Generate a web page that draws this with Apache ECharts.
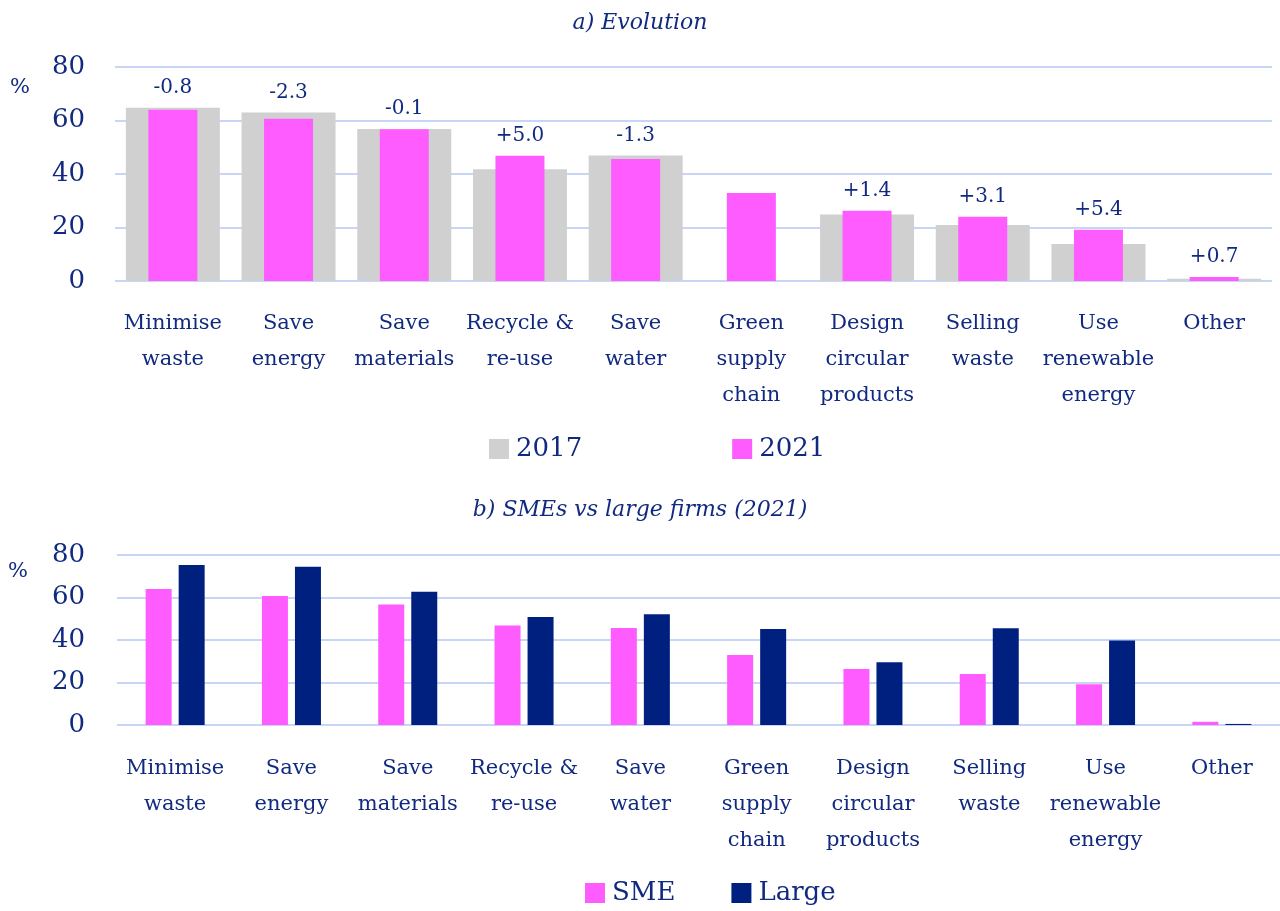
<!DOCTYPE html>
<html>
<head>
<meta charset="utf-8">
<script src="https://cdn.jsdelivr.net/npm/echarts@6/dist/echarts.min.js"></script>
<style>
  html, body { margin: 0; padding: 0; background: #ffffff; }
  #chart { width: 1280px; height: 911px; }
</style>
</head>
<body>
<div id="chart"></div>
<script>
// Circular-economy actions taken by firms, share of firms (%)
const categories = [
  'Minimise\nwaste', 'Save\nenergy', 'Save\nmaterials', 'Recycle &\nre-use', 'Save\nwater',
  'Green\nsupply\nchain', 'Design\ncircular\nproducts', 'Selling\nwaste', 'Use\nrenewable\nenergy', 'Other'
];
const yTicks = [0, 20, 40, 60, 80];

// Panel a) evolution between survey waves
const values2017 = [64.8, 63.0, 56.8, 41.8, 46.9, null, 24.9, 20.9, 13.8, 0.8];
const values2021 = [64.0, 60.7, 56.7, 46.8, 45.6, 32.9, 26.3, 24.0, 19.2, 1.5];

// Panel b) by firm size, 2021
const valuesSME = [64.0, 60.7, 56.7, 46.8, 45.6, 32.9, 26.3, 24.0, 19.2, 1.5];
const valuesLarge = [75.3, 74.5, 62.7, 50.8, 52.1, 45.2, 29.5, 45.5, 39.8, 0.5];

const NAVY = '#002080';
const TEXT = '#112a80';
const PINK = '#ff5cff';
const GREY = '#d0d0d0';
const GRID = '#c9d5f7';
const FONT = '"DejaVu Serif", "Liberation Serif", serif';

function change(i) {
  if (values2017[i] == null || values2021[i] == null) return null;
  return Math.round((values2021[i] - values2017[i]) * 10) / 10;
}
function fmtChange(i) {
  const c = change(i);
  if (c == null) return '';
  return (c >= 0 ? '+' : '') + c.toFixed(1);
}

const catAxis = (gridIndex, margin) => ({
  type: 'category',
  gridIndex,
  data: categories,
  axisLine: { show: false },
  axisTick: { show: false },
  axisLabel: {
    interval: 0, color: TEXT, fontFamily: FONT, fontSize: 21,
    lineHeight: 36, margin
  }
});
const valAxis = (gridIndex, margin) => ({
  type: 'value',
  gridIndex,
  min: yTicks[0], max: yTicks[yTicks.length - 1], interval: 20,
  axisLine: { show: false },
  axisTick: { show: false },
  axisLabel: { color: TEXT, fontFamily: FONT, fontSize: 26, margin },
  splitLine: { lineStyle: { color: GRID, width: 2 } }
});

const option = {
  backgroundColor: '#ffffff',
  animation: false,
  textStyle: { fontFamily: FONT },
  title: [
    { text: 'a) Evolution', left: 'center', top: 7,
      textStyle: { fontFamily: FONT, fontStyle: 'italic', fontWeight: 'normal', fontSize: 22, color: TEXT } },
    { text: 'b) SMEs vs large firms (2021)', left: 'center', top: 494,
      textStyle: { fontFamily: FONT, fontStyle: 'italic', fontWeight: 'normal', fontSize: 22, color: TEXT } }
  ],
  legend: [
    { data: ['2017', '2021'], left: 484, top: 431, itemWidth: 20, itemHeight: 20, itemGap: 150,
      icon: 'rect', textStyle: { color: TEXT, fontFamily: FONT, fontSize: 26, padding: [0, 0, 0, 2] } },
    { data: ['SME', 'Large'], left: 580, top: 875, itemWidth: 20, itemHeight: 20, itemGap: 56,
      icon: 'rect', textStyle: { color: TEXT, fontFamily: FONT, fontSize: 26, padding: [0, 0, 0, 2] } }
  ],
  graphic: [
    { type: 'text', left: 10, top: 77, style: { text: '%', fill: TEXT, font: '21px ' + FONT } },
    { type: 'text', left: 8, top: 561, style: { text: '%', fill: TEXT, font: '21px ' + FONT } }
  ],
  grid: [
    { left: 115, top: 67, width: 1157, height: 214 },
    { left: 117, top: 555, width: 1168, height: 170 }
  ],
  xAxis: [
    catAxis(0, 25),
    Object.assign(catAxis(0, 25), { show: false }),
    catAxis(1, 26)
  ],
  yAxis: [valAxis(0, 30), valAxis(1, 32)],
  series: [
    {
      name: '2017', type: 'bar', xAxisIndex: 0, yAxisIndex: 0,
      data: values2017, barWidth: 94, itemStyle: { color: GREY }, z: 2,
      label: {
        show: true, position: 'top', distance: 10, color: TEXT, fontFamily: FONT, fontSize: 20,
        formatter: p => (values2021[p.dataIndex] != null && values2017[p.dataIndex] >= values2021[p.dataIndex]) ? fmtChange(p.dataIndex) : ''
      }
    },
    {
      name: '2021', type: 'bar', xAxisIndex: 1, yAxisIndex: 0,
      data: values2021, barWidth: 49, itemStyle: { color: PINK }, z: 3,
      label: {
        show: true, position: 'top', distance: 10, color: TEXT, fontFamily: FONT, fontSize: 20,
        formatter: p => (values2017[p.dataIndex] != null && values2021[p.dataIndex] > values2017[p.dataIndex]) ? fmtChange(p.dataIndex) : ''
      }
    },
    {
      name: 'SME', type: 'bar', xAxisIndex: 2, yAxisIndex: 1,
      data: valuesSME, barWidth: 26, barGap: '27%', itemStyle: { color: PINK }
    },
    {
      name: 'Large', type: 'bar', xAxisIndex: 2, yAxisIndex: 1,
      data: valuesLarge, barWidth: 26, barGap: '27%', itemStyle: { color: NAVY }
    }
  ]
};

const chart = echarts.init(document.getElementById('chart'), null, { renderer: 'canvas' });
chart.setOption(option);
</script>
</body>
</html>
